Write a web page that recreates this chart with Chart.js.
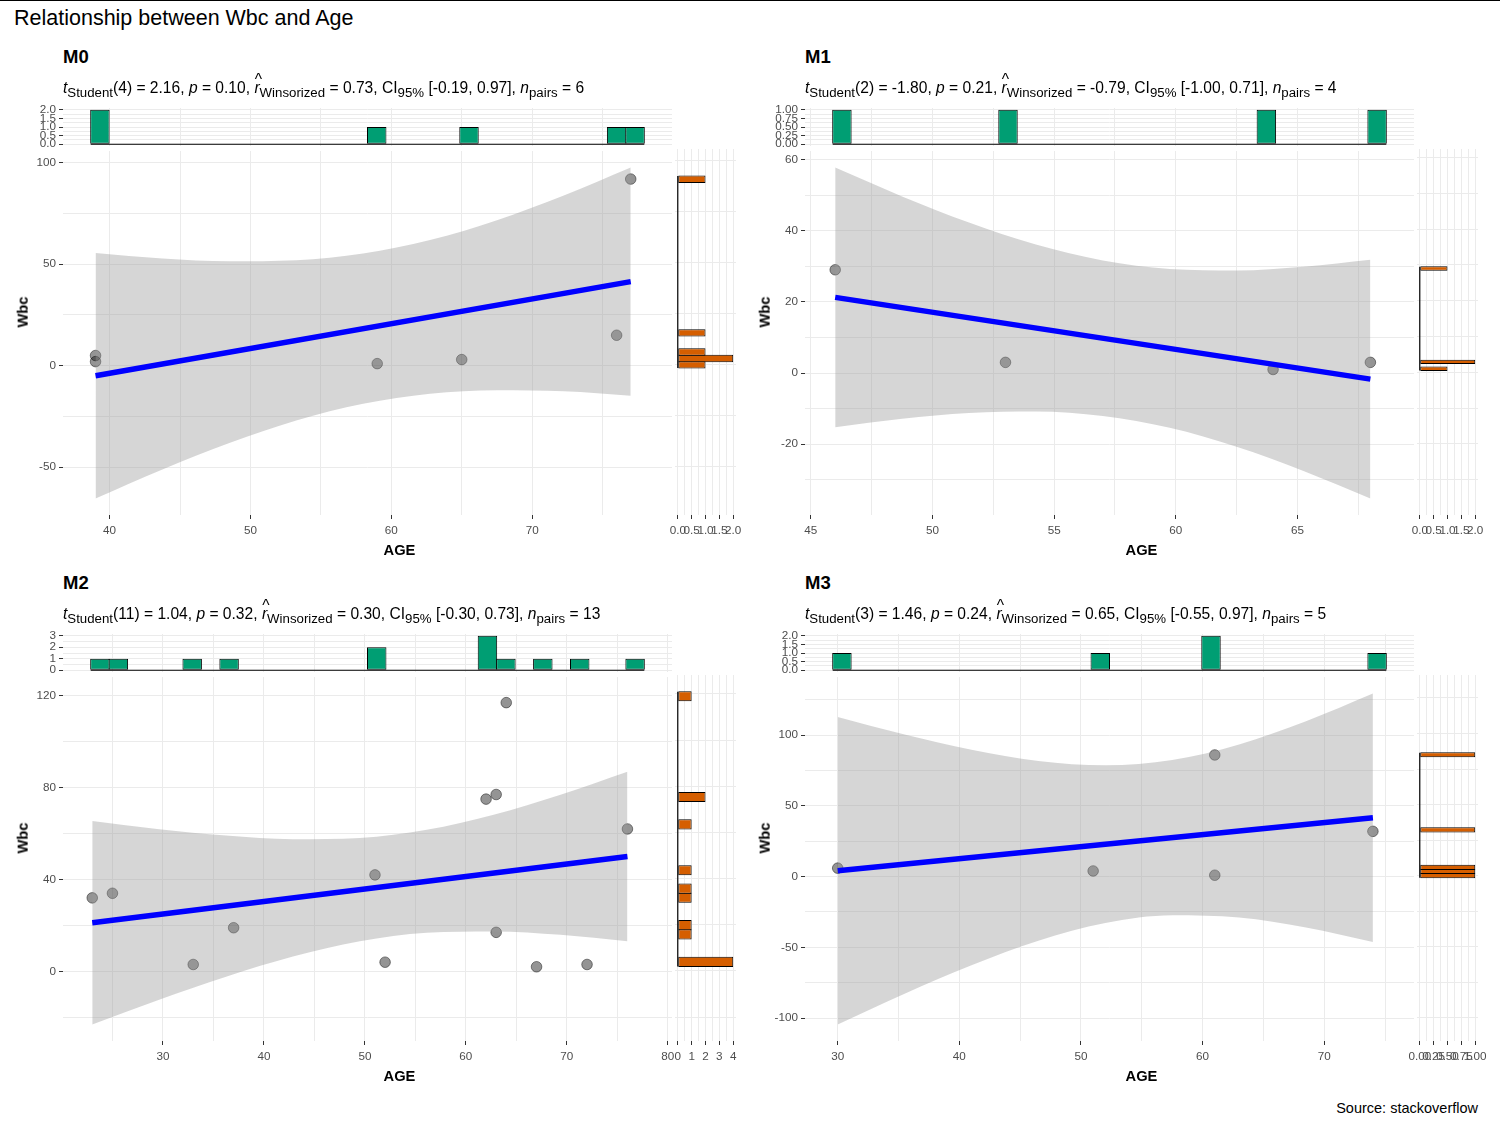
<!DOCTYPE html>
<html>
<head>
<meta charset="utf-8">
<script src="https://cdn.jsdelivr.net/npm/chart.js@4.4.1/dist/chart.umd.min.js"></script>
<style>
html, body { margin: 0; padding: 0; background: #fff; }
#root { position: relative; width: 1500px; height: 1125px; overflow: hidden; background: #fff;
        font-family: 'Liberation Sans', Arial, Helvetica, sans-serif; }
#root canvas { position: absolute; }
.t { position: absolute; white-space: nowrap; line-height: 1; color: #000; }
.sub { font-size: 0.85em; vertical-align: -0.3em; line-height: 0; }
.hat { position: relative; }
.caret { position: absolute; left: 0.02em; top: -0.45em; font-style: normal; line-height: 1; }
#topline { position: absolute; left: 0; top: 0; width: 1500px; height: 1px; background: #000; }
</style>
</head>
<body>
<div id="root"><div id="topline"></div></div>
<script>
// ===================== DATA =====================
const panelNames = ['M0', 'M1', 'M2', 'M3'];

const ageM0 = [39, 39, 59, 65, 76, 77];
const wbcM0 = [5, 2, 1, 3, 15, 92];
const ageM1 = [46, 53, 64, 68];
const wbcM1 = [29, 3, 1, 3];
const ageM2 = [23, 25, 33, 37, 51, 52, 62, 63, 64, 63, 67, 72, 76];
const wbcM2 = [32, 34, 3, 19, 42, 4, 75, 77, 117, 17, 2, 3, 62];
const ageM3 = [30, 51, 61, 61, 74];
const wbcM3 = [6, 4, 86, 1, 32];

// fitted regression line (end points)
const fitXM0 = [39, 77], fitYM0 = [-4.96, 41.45];
const fitXM1 = [46, 68], fitYM1 = [21.26, -1.70];
const fitXM2 = [23, 76], fitYM2 = [21.17, 50.02];
const fitXM3 = [30, 74], fitYM3 = [4.21, 41.61];

// 95% confidence band of the fit
const bandXM0  = [39, 43.75, 48.5, 53.25, 58, 62.75, 67.5, 72.25, 77];
const bandLoM0 = [-65.47, -51.18, -38.16, -27.08, -18.80, -13.86, -12.07, -12.64, -14.78];
const bandHiM0 = [55.55, 52.86, 51.44, 51.96, 55.28, 61.94, 71.75, 83.92, 97.67];
const bandXM1  = [46, 48.75, 51.5, 54.25, 57, 59.75, 62.5, 65.25, 68];
const bandLoM1 = [-15.19, -12.83, -11.22, -10.77, -12.04, -15.39, -20.70, -27.49, -35.22];
const bandHiM1 = [57.71, 49.61, 42.26, 36.07, 31.60, 29.21, 28.79, 29.83, 31.83];
const bandXM2  = [23, 29.625, 36.25, 42.875, 49.5, 56.125, 62.75, 69.375, 76];
const bandLoM2 = [-23.11, -12.37, -2.34, 6.45, 13.13, 16.79, 17.41, 15.90, 13.10];
const bandHiM2 = [65.45, 61.93, 59.11, 57.53, 58.07, 61.63, 68.21, 76.94, 86.94];
const bandXM3  = [30, 35.5, 41, 46.5, 52, 57.5, 63, 68.5, 74];
const bandLoM3 = [-104.50, -82.73, -62.60, -45.32, -32.85, -27.28, -28.93, -35.92, -46.17];
const bandHiM3 = [112.91, 100.49, 89.72, 81.78, 78.67, 82.45, 93.45, 109.80, 129.39];

// axis tick values / labels
const xTicksM0 = [40, 50, 60, 70],          yTicksM0 = [-50, 0, 50, 100];
const xTicksM1 = [45, 50, 55, 60, 65],      yTicksM1 = [-20, 0, 20, 40, 60];
const xTicksM2 = [30, 40, 50, 60, 70, 80],  yTicksM2 = [0, 40, 80, 120];
const xTicksM3 = [30, 40, 50, 60, 70],      yTicksM3 = [-100, -50, 0, 50, 100];

const topTicksM0 = [0, 0.5, 1, 1.5, 2];     const topLabelsM0 = ['0.0', '0.5', '1.0', '1.5', '2.0'];
const sideTicksM0 = [0, 0.5, 1, 1.5, 2];    const sideLabelsM0 = ['0.0', '0.5', '1.0', '1.5', '2.0'];
const topTicksM1 = [0, 0.25, 0.5, 0.75, 1]; const topLabelsM1 = ['0.00', '0.25', '0.50', '0.75', '1.00'];
const sideTicksM1 = [0, 0.5, 1, 1.5, 2];    const sideLabelsM1 = ['0.0', '0.5', '1.0', '1.5', '2.0'];
const topTicksM2 = [0, 1, 2, 3];            const topLabelsM2 = ['0', '1', '2', '3'];
const sideTicksM2 = [0, 1, 2, 3, 4];        const sideLabelsM2 = ['0', '1', '2', '3', '4'];
const topTicksM3 = [0, 0.5, 1, 1.5, 2];     const topLabelsM3 = ['0.0', '0.5', '1.0', '1.5', '2.0'];
const sideTicksM3 = [0, 0.25, 0.5, 0.75, 1];const sideLabelsM3 = ['0.00', '0.25', '0.50', '0.75', '1.00'];

// subtitle statistics
const statDf  = ['4', '2', '11', '3'];
const statT   = ['2.16', '-1.80', '1.04', '1.46'];
const statP   = ['0.10', '0.21', '0.32', '0.24'];
const statR   = ['0.73', '-0.79', '0.30', '0.65'];
const statCiL = ['-0.19', '-1.00', '-0.30', '-0.55'];
const statCiH = ['0.97', '0.71', '0.73', '0.97'];
const statN   = ['6', '4', '13', '5'];

const mainTitle = 'Relationship between Wbc and Age';
const xTitle = 'AGE';
const yTitle = 'Wbc';
const captionText = 'Source: stackoverflow';

// ===================== LAYOUT / STYLE =====================
const FONT = "'Liberation Sans', Arial, Helvetica, sans-serif";
const COL_X = [63, 805];
const ROW_Y = [0, 526];
const MAIN_TOP = 149, MAIN_H = 366, MAIN_W = 609;
const TOP_TOP = 108, TOP_H = 38;
const SIDE_GAP = 3, SIDE_W = 61, SIDE_PAD = 16;
const AX_Y = 50, AX_X = 40, PAD_T = 8, PAD_R = 14;
const GRID = '#EBEBEB', TICKC = '#333333', TICKLAB = '#4D4D4D';

const root = document.getElementById('root');
Chart.defaults.font.family = FONT;

const PANELS = [
  { age: ageM0, wbc: wbcM0, fitX: fitXM0, fitY: fitYM0, bandX: bandXM0, bandLo: bandLoM0, bandHi: bandHiM0,
    xTicks: xTicksM0, yTicks: yTicksM0, topTicks: topTicksM0, topLabels: topLabelsM0, sideTicks: sideTicksM0, sideLabels: sideLabelsM0, col: 0, row: 0 },
  { age: ageM1, wbc: wbcM1, fitX: fitXM1, fitY: fitYM1, bandX: bandXM1, bandLo: bandLoM1, bandHi: bandHiM1,
    xTicks: xTicksM1, yTicks: yTicksM1, topTicks: topTicksM1, topLabels: topLabelsM1, sideTicks: sideTicksM1, sideLabels: sideLabelsM1, col: 1, row: 0 },
  { age: ageM2, wbc: wbcM2, fitX: fitXM2, fitY: fitYM2, bandX: bandXM2, bandLo: bandLoM2, bandHi: bandHiM2,
    xTicks: xTicksM2, yTicks: yTicksM2, topTicks: topTicksM2, topLabels: topLabelsM2, sideTicks: sideTicksM2, sideLabels: sideLabelsM2, col: 0, row: 1 },
  { age: ageM3, wbc: wbcM3, fitX: fitXM3, fitY: fitYM3, bandX: bandXM3, bandLo: bandLoM3, bandHi: bandHiM3,
    xTicks: xTicksM3, yTicks: yTicksM3, topTicks: topTicksM3, topLabels: topLabelsM3, sideTicks: sideTicksM3, sideLabels: sideLabelsM3, col: 1, row: 1 }
];

// ggplot2-style histogram binning (bins = 30)
function ggHistogram(values, bins = 30) {
  const lo = Math.min(...values), hi = Math.max(...values);
  const width = (hi - lo) / (bins - 1);
  const boundary = width / 2;
  const origin = boundary + Math.floor((lo - boundary) / width) * width;
  const maxX = hi + (1 - 1e-8) * width;
  const breaks = [];
  for (let k = 0; origin + k * width <= maxX; k++) breaks.push(origin + k * width);
  const fuzz = 1e-8 * width;
  const counts = new Array(breaks.length - 1).fill(0);
  values.forEach(v => {
    let idx = Math.ceil((v - fuzz - origin) / width) - 1;
    idx = Math.max(0, Math.min(counts.length - 1, idx));
    counts[idx]++;
  });
  return { breaks, counts, width };
}

function expandRange(lo, hi) { const d = (hi - lo) * 0.05; return [lo - d, hi + d]; }

function axis({ min, max, majors, labels, show, size, isX }) {
  const step = majors.length > 1 ? majors[1] - majors[0] : 1;
  const minors = [];
  const cand = [majors[0] - step / 2].concat(majors.map(m => m + step / 2));
  cand.forEach(m => { if (m >= min && m <= max) minors.push(m); });
  const all = majors.filter(m => m >= min && m <= max).concat(minors).sort((a, b) => a - b);
  const labelMap = new Map();
  majors.forEach((m, i) => labelMap.set(m, labels[i] !== undefined ? labels[i] : ''));
  const majorSet = new Set(majors);
  return {
    type: 'linear', min, max, offset: false, position: isX ? 'bottom' : 'left',
    afterBuildTicks: s => { s.ticks = all.map(v => ({ value: v })); },
    afterFit: s => { if (isX) s.height = size; else s.width = size; },
    ticks: {
      display: show, autoSkip: false, maxRotation: 0, minRotation: 0, padding: isX ? 5 : 3,
      color: TICKLAB, font: { family: FONT, size: 11.7 },
      callback: v => (labelMap.has(v) ? labelMap.get(v) : '')
    },
    grid: {
      display: true, offset: false, drawTicks: show, tickLength: 4, tickWidth: 1,
      tickColor: ctx => (ctx.tick && majorSet.has(ctx.tick.value) ? TICKC : 'rgba(0,0,0,0)'),
      color: GRID, lineWidth: 1
    },
    border: { display: false }
  };
}

function baseOptions(padding) {
  return {
    responsive: false, maintainAspectRatio: false, devicePixelRatio: 1, animation: false, events: [],
    layout: { autoPadding: false, padding },
    plugins: { legend: { display: false }, tooltip: { enabled: false }, title: { display: false } }
  };
}

function makeCanvas(left, top, w, h) {
  const c = document.createElement('canvas');
  c.width = w; c.height = h;
  c.style.left = left + 'px'; c.style.top = top + 'px';
  c.style.width = w + 'px'; c.style.height = h + 'px';
  root.appendChild(c);
  return c;
}

function addText(html, x, base, fs, opt = {}) {
  const d = document.createElement('div');
  d.className = 't';
  d.innerHTML = html;
  d.style.fontSize = fs + 'px';
  if (opt.bold) d.style.fontWeight = 'bold';
  d.style.left = x + 'px';
  d.style.top = (base - 0.8466 * fs) + 'px';
  if (opt.align === 'center') d.style.transform = 'translateX(-50%)';
  if (opt.align === 'right') d.style.transform = 'translateX(-100%)';
  root.appendChild(d);
}

function addRotText(text, cx, cy, fs, bold) {
  const d = document.createElement('div');
  d.className = 't';
  d.textContent = text;
  d.style.fontSize = fs + 'px';
  if (bold) d.style.fontWeight = 'bold';
  d.style.left = cx + 'px';
  d.style.top = cy + 'px';
  d.style.transform = 'translate(-50%,-50%) rotate(-90deg)';
  root.appendChild(d);
}

// ===================== DRAW =====================
addText(mainTitle, 14, 26.5, 21.5);
addText(captionText, 1478, 1113, 14.5, { align: 'right' });

PANELS.forEach((p, i) => {
  const L = COL_X[p.col], dy = ROW_Y[p.row];
  const hx = ggHistogram(p.age), hy = ggHistogram(p.wbc);
  const [xMin, xMax] = expandRange(
    Math.min(...p.age, ...p.bandX, hx.breaks[0]),
    Math.max(...p.age, ...p.bandX, hx.breaks[hx.breaks.length - 1]));
  const [yMin, yMax] = expandRange(
    Math.min(...p.wbc, ...p.bandLo, ...p.fitY, hy.breaks[0]),
    Math.max(...p.wbc, ...p.bandHi, ...p.fitY, hy.breaks[hy.breaks.length - 1]));
  const [tcMin, tcMax] = expandRange(0, Math.max(...hx.counts));
  const [scMin, scMax] = expandRange(0, Math.max(...hy.counts));

  // ---- main scatter panel ----
  const mainTop = MAIN_TOP + dy;
  const c1 = makeCanvas(L - AX_Y, mainTop - PAD_T, AX_Y + MAIN_W + PAD_R, PAD_T + MAIN_H + AX_X);
  new Chart(c1, {
    type: 'line',
    data: {
      datasets: [
        { data: p.fitX.map((x, k) => ({ x, y: p.fitY[k] })), borderColor: '#0000FF', borderWidth: 5.5,
          pointRadius: 0, borderCapStyle: 'butt', fill: false },
        { data: p.bandX.map((x, k) => ({ x, y: p.bandHi[k] })), borderWidth: 0, borderColor: 'rgba(0,0,0,0)',
          pointRadius: 0, fill: '+1', backgroundColor: 'rgba(153,153,153,0.4)', cubicInterpolationMode: 'monotone' },
        { data: p.bandX.map((x, k) => ({ x, y: p.bandLo[k] })), borderWidth: 0, borderColor: 'rgba(0,0,0,0)',
          pointRadius: 0, fill: false, cubicInterpolationMode: 'monotone' },
        { data: p.age.map((x, k) => ({ x, y: p.wbc[k] })), showLine: false, pointRadius: 5.3,
          backgroundColor: 'rgba(0,0,0,0.42)', pointBackgroundColor: 'rgba(0,0,0,0.42)',
          borderColor: 'rgba(0,0,0,0.45)', pointBorderColor: 'rgba(0,0,0,0.45)', pointBorderWidth: 1 }
      ]
    },
    options: Object.assign(baseOptions({ left: 0, top: PAD_T, right: PAD_R, bottom: 0 }), {
      scales: {
        x: axis({ min: xMin, max: xMax, majors: p.xTicks, labels: p.xTicks.map(String), show: true, size: AX_X, isX: true }),
        y: axis({ min: yMin, max: yMax, majors: p.yTicks, labels: p.yTicks.map(String), show: true, size: AX_Y, isX: false })
      }
    })
  });

  // ---- top histogram (AGE) ----
  const topTop = TOP_TOP + dy;
  const c2 = makeCanvas(L - AX_Y, topTop - 10, AX_Y + MAIN_W, 10 + TOP_H + 10);
  const pxX = MAIN_W / (xMax - xMin);
  new Chart(c2, {
    type: 'bar',
    data: {
      datasets: [
        { type: 'bar',
          data: hx.counts.map((c, k) => ({ x: (hx.breaks[k] + hx.breaks[k + 1]) / 2, y: c })).filter(d => d.y > 0),
          backgroundColor: '#009E73', borderColor: '#000', borderWidth: 1, borderSkipped: false,
          barThickness: hx.width * pxX + 1, inflateAmount: 0, grouped: false },
        { type: 'line', data: [{ x: hx.breaks[0], y: 0 }, { x: hx.breaks[hx.breaks.length - 1], y: 0 }],
          borderColor: '#000', borderWidth: 1.2, pointRadius: 0, fill: false }
      ]
    },
    options: Object.assign(baseOptions({ left: 0, top: 10, right: 0, bottom: 10 }), {
      scales: {
        x: axis({ min: xMin, max: xMax, majors: p.xTicks, labels: [], show: false, size: 0, isX: true }),
        y: axis({ min: tcMin, max: tcMax, majors: p.topTicks, labels: p.topLabels, show: true, size: AX_Y, isX: false })
      }
    })
  });

  // ---- right histogram (Wbc) ----
  const c3 = makeCanvas(L + MAIN_W + SIDE_GAP - SIDE_PAD, mainTop - PAD_T, SIDE_PAD + SIDE_W + SIDE_PAD, PAD_T + MAIN_H + AX_X);
  const pxY = MAIN_H / (yMax - yMin);
  new Chart(c3, {
    type: 'bar',
    data: {
      datasets: [
        { type: 'bar',
          data: hy.counts.map((c, k) => ({ y: (hy.breaks[k] + hy.breaks[k + 1]) / 2, x: c })).filter(d => d.x > 0),
          backgroundColor: '#D55E00', borderColor: '#000', borderWidth: 1, borderSkipped: false,
          barThickness: hy.width * pxY + 1, inflateAmount: 0, grouped: false },
        { type: 'line', data: [{ x: 0, y: hy.breaks[0] }, { x: 0, y: hy.breaks[hy.breaks.length - 1] }],
          borderColor: '#000', borderWidth: 1.2, pointRadius: 0, fill: false }
      ]
    },
    options: Object.assign(baseOptions({ left: SIDE_PAD, top: PAD_T, right: SIDE_PAD, bottom: 0 }), {
      indexAxis: 'y',
      scales: {
        x: axis({ min: scMin, max: scMax, majors: p.sideTicks, labels: p.sideLabels, show: true, size: AX_X, isX: true }),
        y: axis({ min: yMin, max: yMax, majors: p.yTicks, labels: [], show: false, size: 0, isX: false })
      }
    })
  });

  // ---- texts ----
  addText(panelNames[i], L, 63.3 + dy, 18.5, { bold: true });
  const sub = `<i>t</i><span class="sub">Student</span>(${statDf[i]}) = ${statT[i]}, <i>p</i> = ${statP[i]}, ` +
    `<i class="hat">r<span class="caret">^</span></i><span class="sub">Winsorized</span> = ${statR[i]}, ` +
    `CI<span class="sub">95%</span> [${statCiL[i]}, ${statCiH[i]}], <i>n</i><span class="sub">pairs</span> = ${statN[i]}`;
  addText(sub, L, 93 + dy, 15.6);
  addText(xTitle, L + (MAIN_W + SIDE_GAP + SIDE_W) / 2, 555 + dy, 14.7, { bold: true, align: 'center' });
  addRotText(yTitle, L - 40, (TOP_TOP + MAIN_TOP + MAIN_H) / 2 + dy, 14.7, true);
});
</script>
</body>
</html>
